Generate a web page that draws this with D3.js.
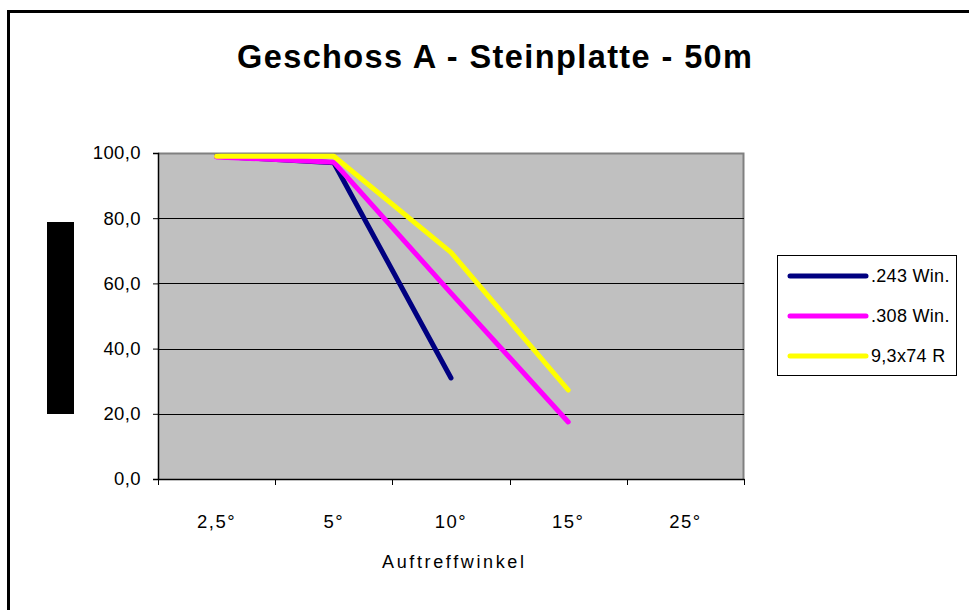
<!DOCTYPE html>
<html><head><meta charset="utf-8">
<script src="https://cdn.jsdelivr.net/npm/d3@7"></script>
<style>
html,body{margin:0;padding:0;background:#fff;}
svg{display:block;font-family:"Liberation Sans",Arial,sans-serif;}
</style></head>
<body><svg id="c" width="969" height="610"></svg>
<script>
const categories = ["2,5°", "5°", "10°", "15°", "25°"];
const seriesNames = [".243 Win.", ".308 Win.", "9,3x74 R"];
const seriesColors = ["#000080", "#FF00FF", "#FFFF00"];
const win243 = [99.0, 97.0, 31.0, null, null];
const win308 = [98.8, 97.2, 57.0, 17.5, null];
const r93x74 = [99.0, 99.0, 69.5, 27.3, null];
const yTicks = [0, 20, 40, 60, 80, 100];
const titleText = "Geschoss A - Steinplatte - 50m";
const xTitle = "Auftreffwinkel";

const series = [win243, win308, r93x74];
const svg = d3.select("#c");
const FF = "Liberation Sans, Arial, sans-serif";

// outer frame
svg.append("rect").attr("x", 8.5).attr("y", 11.5).attr("width", 980).attr("height", 620)
  .attr("fill", "#fff").attr("stroke", "#000").attr("stroke-width", 3);

const m = {l: 158, r: 744, t: 153, b: 479};
const x = d3.scaleBand().domain(categories).range([m.l, m.r]).padding(0);
const y = d3.scaleLinear().domain([0, 100]).range([m.b, m.t]);

// plot area
svg.append("rect").attr("x", m.l).attr("y", m.t).attr("width", m.r - m.l).attr("height", m.b - m.t)
  .attr("fill", "#C0C0C0");
svg.append("path").attr("d", `M${m.l},${m.t+0.5}H${m.r-0.5}V${m.b}`).attr("fill", "none")
  .attr("stroke", "#808080").attr("stroke-width", 2);

// gridlines
svg.append("g").selectAll("line").data(yTicks.filter(d => d > 0 && d < 100)).join("line")
  .attr("x1", m.l).attr("x2", m.r).attr("y1", d => Math.round(y(d)) + 0.5).attr("y2", d => Math.round(y(d)) + 0.5)
  .attr("stroke", "#000").attr("stroke-width", 1);

// y axis
const yAxis = svg.append("g").attr("transform", `translate(${m.l},0)`)
  .call(d3.axisLeft(y).tickValues(yTicks).tickSize(5).tickPadding(12)
    .tickFormat(d => d3.format(".1f")(d).replace(".", ",")));
yAxis.select(".domain").attr("stroke", "#000").attr("stroke-width", 1.5);
yAxis.selectAll(".tick line").attr("stroke", "#000");
yAxis.selectAll("text").attr("font-size", 18.5).attr("fill", "#000").attr("font-family", FF)
  .attr("letter-spacing", 0.4);

// x axis
const xAxis = svg.append("g").attr("transform", `translate(0,${m.b})`)
  .call(d3.axisBottom(x).tickSize(0).tickPadding(36));
xAxis.select(".domain").attr("stroke", "#000").attr("stroke-width", 1.5);
xAxis.selectAll("text").attr("font-size", 18.5).attr("fill", "#000").attr("font-family", FF)
  .attr("letter-spacing", 1.5);
// category boundary ticks
const bounds = categories.map(c => x(c)).concat([x.range()[1]]);
svg.append("g").selectAll("line").data(bounds).join("line")
  .attr("x1", d => Math.round(d) + 0.5).attr("x2", d => Math.round(d) + 0.5)
  .attr("y1", m.b).attr("y2", m.b + 6).attr("stroke", "#000").attr("stroke-width", 1);

// lines
const line = d3.line().defined(d => d.v != null)
  .x(d => x(d.c) + x.bandwidth() / 2).y(d => y(d.v));
series.forEach((s, i) => {
  svg.append("path").datum(categories.map((c, j) => ({c, v: s[j]})))
    .attr("d", line).attr("fill", "none").attr("stroke", seriesColors[i])
    .attr("stroke-width", 5).attr("stroke-linecap", "round").attr("stroke-linejoin", "round");
});

// title
svg.append("text").attr("x", 494.5).attr("y", 68).attr("text-anchor", "middle")
  .attr("font-size", 32.5).attr("font-weight", "bold")
  .attr("textLength", 515).attr("lengthAdjust", "spacing").text(titleText);

// x title
svg.append("text").attr("x", 453).attr("y", 568).attr("text-anchor", "middle")
  .attr("font-size", 18).attr("textLength", 142).attr("lengthAdjust", "spacing").text(xTitle);

// y-title placeholder block
svg.append("rect").attr("x", 47).attr("y", 222).attr("width", 27).attr("height", 192).attr("fill", "#000");

// legend
const lg = svg.append("g");
lg.append("rect").attr("x", 777.5).attr("y", 255.5).attr("width", 179).attr("height", 120)
  .attr("fill", "#fff").attr("stroke", "#000").attr("stroke-width", 1);
const ly = d3.scalePoint().domain(seriesNames).range([276, 356]);
seriesNames.forEach((n, i) => {
  lg.append("line").attr("x1", 790).attr("x2", 866).attr("y1", ly(n)).attr("y2", ly(n))
    .attr("stroke", seriesColors[i]).attr("stroke-width", 5).attr("stroke-linecap", "round");
  lg.append("text").attr("x", 871).attr("y", ly(n)).attr("dy", "0.36em")
    .attr("font-size", 18).attr("letter-spacing", 0.3).text(n);
});
</script></body></html>
